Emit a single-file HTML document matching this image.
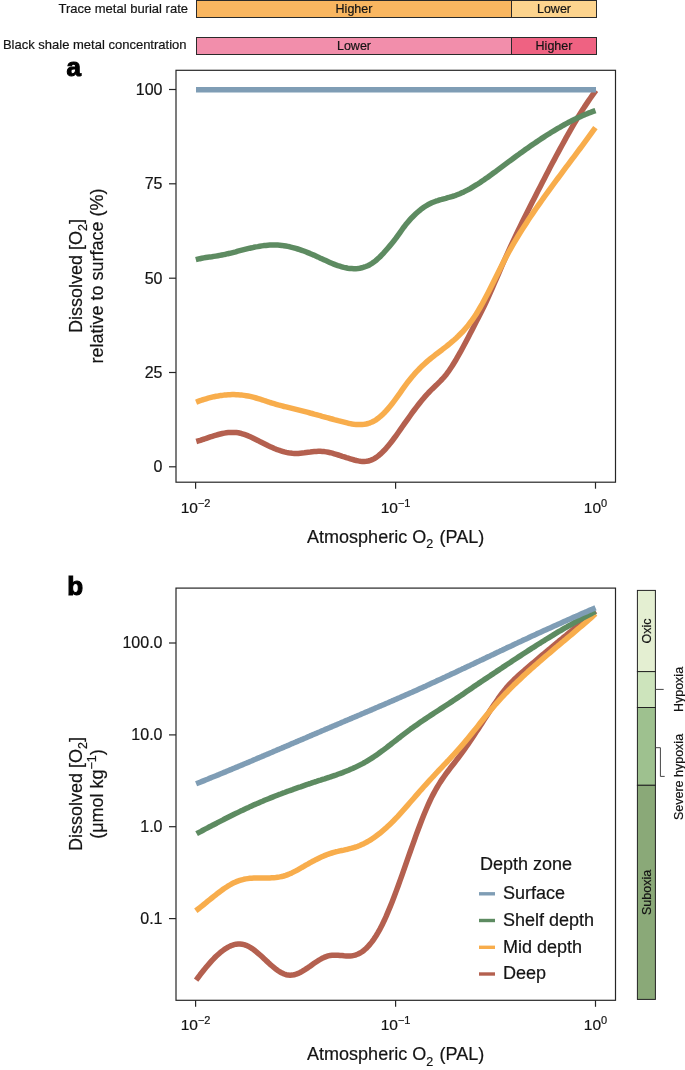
<!DOCTYPE html>
<html><head><meta charset="utf-8"><style>
html,body{margin:0;padding:0;background:#fff;width:685px;height:1070px;overflow:hidden}
svg{display:block;will-change:transform}
text{font-family:"Liberation Sans",sans-serif;stroke:#141414;stroke-width:0.2px}
</style></head><body>
<svg width="685" height="1070" viewBox="0 0 685 1070">
<rect width="685" height="1070" fill="#fff"/>
<text x="188" y="13" font-family="Liberation Sans, sans-serif" font-size="13" text-anchor="end" fill="#141414">Trace metal burial rate</text>
<rect x="196.5" y="0.5" width="315" height="17" fill="#f9b660" stroke="#2a2a2a" stroke-width="1"/>
<rect x="511.5" y="0.5" width="85" height="17" fill="#fdd48e" stroke="#2a2a2a" stroke-width="1"/>
<text x="354" y="13" font-family="Liberation Sans, sans-serif" font-size="12.5" text-anchor="middle" fill="#141414">Higher</text>
<text x="554" y="13" font-family="Liberation Sans, sans-serif" font-size="12.5" text-anchor="middle" fill="#141414">Lower</text>
<text x="186.5" y="49" font-family="Liberation Sans, sans-serif" font-size="13" text-anchor="end" fill="#141414">Black shale metal concentration</text>
<rect x="196.5" y="37.5" width="315" height="17" fill="#f28eab" stroke="#2a2a2a" stroke-width="1"/>
<rect x="511.5" y="37.5" width="85" height="17" fill="#ef6282" stroke="#2a2a2a" stroke-width="1"/>
<text x="354" y="50" font-family="Liberation Sans, sans-serif" font-size="12.5" text-anchor="middle" fill="#141414">Lower</text>
<text x="554" y="50" font-family="Liberation Sans, sans-serif" font-size="12.5" text-anchor="middle" fill="#141414">Higher</text>
<text x="66.6" y="76.2" font-family="Liberation Sans, sans-serif" font-size="26" font-weight="bold" fill="#000" style="stroke:#000;stroke-width:1.1px">a</text>
<text x="67.2" y="594.6" font-family="Liberation Sans, sans-serif" font-size="26" font-weight="bold" fill="#000" style="stroke:#000;stroke-width:1.1px">b</text>
<rect x="176" y="70.3" width="439.5" height="411.9" fill="none" stroke="#262626" stroke-width="1.2"/>
<line x1="169" y1="89.5" x2="176" y2="89.5" stroke="#262626" stroke-width="1.2"/>
<text x="162.5" y="94.8" font-family="Liberation Sans, sans-serif" font-size="16" text-anchor="end" fill="#141414">100</text>
<line x1="169" y1="183.8" x2="176" y2="183.8" stroke="#262626" stroke-width="1.2"/>
<text x="162.5" y="189.1" font-family="Liberation Sans, sans-serif" font-size="16" text-anchor="end" fill="#141414">75</text>
<line x1="169" y1="278.2" x2="176" y2="278.2" stroke="#262626" stroke-width="1.2"/>
<text x="162.5" y="283.5" font-family="Liberation Sans, sans-serif" font-size="16" text-anchor="end" fill="#141414">50</text>
<line x1="169" y1="372.5" x2="176" y2="372.5" stroke="#262626" stroke-width="1.2"/>
<text x="162.5" y="377.8" font-family="Liberation Sans, sans-serif" font-size="16" text-anchor="end" fill="#141414">25</text>
<line x1="169" y1="466.8" x2="176" y2="466.8" stroke="#262626" stroke-width="1.2"/>
<text x="162.5" y="472.1" font-family="Liberation Sans, sans-serif" font-size="16" text-anchor="end" fill="#141414">0</text>
<line x1="195.6" y1="482.2" x2="195.6" y2="488.7" stroke="#262626" stroke-width="1.2"/>
<line x1="395.6" y1="482.2" x2="395.6" y2="488.7" stroke="#262626" stroke-width="1.2"/>
<line x1="595.5" y1="482.2" x2="595.5" y2="488.7" stroke="#262626" stroke-width="1.2"/>
<rect x="176" y="588.1" width="439.5" height="412.2" fill="none" stroke="#262626" stroke-width="1.2"/>
<line x1="169" y1="643.0" x2="176" y2="643.0" stroke="#262626" stroke-width="1.2"/>
<text x="162.5" y="648.3" font-family="Liberation Sans, sans-serif" font-size="16" text-anchor="end" fill="#141414">100.0</text>
<line x1="169" y1="734.9" x2="176" y2="734.9" stroke="#262626" stroke-width="1.2"/>
<text x="162.5" y="740.2" font-family="Liberation Sans, sans-serif" font-size="16" text-anchor="end" fill="#141414">10.0</text>
<line x1="169" y1="826.7" x2="176" y2="826.7" stroke="#262626" stroke-width="1.2"/>
<text x="162.5" y="832.0" font-family="Liberation Sans, sans-serif" font-size="16" text-anchor="end" fill="#141414">1.0</text>
<line x1="169" y1="918.6" x2="176" y2="918.6" stroke="#262626" stroke-width="1.2"/>
<text x="162.5" y="923.9" font-family="Liberation Sans, sans-serif" font-size="16" text-anchor="end" fill="#141414">0.1</text>
<line x1="195.6" y1="1000.3" x2="195.6" y2="1006.8" stroke="#262626" stroke-width="1.2"/>
<line x1="395.6" y1="1000.3" x2="395.6" y2="1006.8" stroke="#262626" stroke-width="1.2"/>
<line x1="595.5" y1="1000.3" x2="595.5" y2="1006.8" stroke="#262626" stroke-width="1.2"/>
<text x="195.6" y="513.3" font-family="Liberation Sans, sans-serif" font-size="15.5" text-anchor="middle" fill="#141414">10<tspan font-size="11" dy="-6">−2</tspan></text>
<text x="395.6" y="513.3" font-family="Liberation Sans, sans-serif" font-size="15.5" text-anchor="middle" fill="#141414">10<tspan font-size="11" dy="-6">−1</tspan></text>
<text x="595.5" y="513.3" font-family="Liberation Sans, sans-serif" font-size="15.5" text-anchor="middle" fill="#141414">10<tspan font-size="11" dy="-6">0</tspan></text>
<text x="195.6" y="1030.3" font-family="Liberation Sans, sans-serif" font-size="15.5" text-anchor="middle" fill="#141414">10<tspan font-size="11" dy="-6">−2</tspan></text>
<text x="395.6" y="1030.3" font-family="Liberation Sans, sans-serif" font-size="15.5" text-anchor="middle" fill="#141414">10<tspan font-size="11" dy="-6">−1</tspan></text>
<text x="595.5" y="1030.3" font-family="Liberation Sans, sans-serif" font-size="15.5" text-anchor="middle" fill="#141414">10<tspan font-size="11" dy="-6">0</tspan></text>
<text x="395.7" y="542.7" font-family="Liberation Sans, sans-serif" font-size="18" text-anchor="middle" fill="#141414">Atmospheric O<tspan font-size="12.5" dy="5.5">2</tspan><tspan dy="-5.5" dx="1.5"> (PAL)</tspan></text>
<text x="395.7" y="1060.1" font-family="Liberation Sans, sans-serif" font-size="18" text-anchor="middle" fill="#141414">Atmospheric O<tspan font-size="12.5" dy="5.5">2</tspan><tspan dy="-5.5" dx="1.5"> (PAL)</tspan></text>
<text transform="translate(81.5,276) rotate(-90)" font-family="Liberation Sans, sans-serif" font-size="18" text-anchor="middle" fill="#141414">Dissolved [O<tspan font-size="12.5" dy="5.5">2</tspan><tspan dy="-5.5">]</tspan></text>
<text transform="translate(102.6,276) rotate(-90)" font-family="Liberation Sans, sans-serif" font-size="18" text-anchor="middle" fill="#141414">relative to surface (%)</text>
<text transform="translate(81.5,794) rotate(-90)" font-family="Liberation Sans, sans-serif" font-size="18" text-anchor="middle" fill="#141414">Dissolved [O<tspan font-size="12.5" dy="5.5">2</tspan><tspan dy="-5.5">]</tspan></text>
<text transform="translate(102.6,794) rotate(-90)" font-family="Liberation Sans, sans-serif" font-size="18" text-anchor="middle" fill="#141414">(μmol kg<tspan font-size="12.5" dy="-7">−1</tspan><tspan dy="7">)</tspan></text>
<path d="M196.3,441.5 L198.3,440.9 L200.3,440.3 L202.3,439.6 L204.3,439.0 L206.3,438.3 L208.3,437.6 L210.3,436.9 L212.3,436.3 L214.3,435.7 L216.3,435.1 L218.3,434.5 L220.3,434.0 L222.3,433.5 L224.3,433.1 L226.3,432.8 L228.3,432.6 L230.3,432.4 L232.3,432.4 L234.3,432.4 L236.3,432.6 L238.3,432.8 L240.3,433.2 L242.3,433.8 L244.3,434.4 L246.3,435.1 L248.3,435.9 L250.3,436.8 L252.3,437.7 L254.3,438.7 L256.3,439.7 L258.3,440.7 L260.3,441.8 L262.3,442.8 L264.3,443.8 L266.3,444.8 L268.3,445.8 L270.3,446.7 L272.3,447.6 L274.3,448.5 L276.3,449.3 L278.3,450.0 L280.3,450.7 L282.3,451.3 L284.3,451.9 L286.3,452.4 L288.3,452.8 L290.3,453.1 L292.3,453.3 L294.3,453.4 L296.3,453.4 L298.3,453.4 L300.3,453.2 L302.3,453.0 L304.3,452.8 L306.3,452.5 L308.3,452.2 L310.3,452.0 L312.3,451.7 L314.3,451.5 L316.3,451.4 L318.3,451.3 L320.3,451.3 L322.3,451.4 L324.3,451.6 L326.3,451.9 L328.3,452.3 L330.3,452.7 L332.3,453.2 L334.3,453.8 L336.3,454.4 L338.3,455.0 L340.3,455.6 L342.3,456.3 L344.3,456.9 L346.3,457.6 L348.3,458.2 L350.3,458.8 L352.3,459.4 L354.3,460.0 L356.3,460.5 L358.3,460.9 L360.3,461.2 L362.3,461.4 L364.3,461.4 L366.3,461.3 L368.3,461.0 L370.3,460.4 L372.3,459.7 L374.3,458.6 L376.3,457.4 L378.3,455.9 L380.3,454.2 L382.3,452.3 L384.3,450.3 L386.3,448.1 L388.3,445.7 L390.3,443.3 L392.3,440.7 L394.3,438.0 L396.3,435.3 L398.3,432.5 L400.3,429.7 L402.3,426.8 L404.3,423.9 L406.3,421.1 L408.3,418.3 L410.3,415.5 L412.3,412.7 L414.3,410.0 L416.3,407.4 L418.3,404.8 L420.3,402.2 L422.3,399.8 L424.3,397.4 L426.3,395.2 L428.3,393.0 L430.3,390.9 L432.3,388.9 L434.3,387.0 L436.3,385.1 L438.3,383.1 L440.3,381.1 L442.3,379.0 L444.3,376.8 L446.3,374.4 L448.3,371.7 L450.3,368.8 L452.3,365.8 L454.3,362.5 L456.3,359.2 L458.3,355.7 L460.3,352.2 L462.3,348.5 L464.3,344.8 L466.3,341.0 L468.3,337.2 L470.3,333.3 L472.3,329.4 L474.3,325.5 L476.3,321.6 L478.3,317.8 L480.3,313.8 L482.3,309.8 L484.3,305.7 L486.3,301.5 L488.3,297.1 L490.3,292.7 L492.3,288.1 L494.3,283.5 L496.3,278.9 L498.3,274.3 L500.3,269.6 L502.3,265.0 L504.3,260.5 L506.3,256.0 L508.3,251.6 L510.3,247.2 L512.3,242.9 L514.3,238.6 L516.3,234.4 L518.3,230.3 L520.3,226.1 L522.3,222.1 L524.3,218.0 L526.3,214.0 L528.3,210.0 L530.3,206.0 L532.3,202.1 L534.3,198.2 L536.3,194.2 L538.3,190.3 L540.3,186.4 L542.3,182.5 L544.3,178.7 L546.3,174.8 L548.3,171.0 L550.3,167.1 L552.3,163.3 L554.3,159.6 L556.3,155.8 L558.3,152.1 L560.3,148.4 L562.3,144.7 L564.3,141.1 L566.3,137.4 L568.3,133.9 L570.3,130.3 L572.3,126.9 L574.3,123.4 L576.3,120.0 L578.3,116.7 L580.3,113.5 L582.3,110.3 L584.3,107.1 L586.3,104.1 L588.3,101.1 L590.3,98.2 L592.3,95.4 L594.3,92.6 L596.0,90.4" fill="none" stroke="#b4604f" stroke-width="5.5" stroke-linecap="butt" stroke-linejoin="round"/>
<path d="M196.1,402.2 L198.1,401.4 L200.1,400.7 L202.1,400.0 L204.1,399.4 L206.1,398.8 L208.1,398.2 L210.1,397.7 L212.1,397.2 L214.1,396.7 L216.1,396.3 L218.1,396.0 L220.1,395.6 L222.1,395.4 L224.1,395.1 L226.1,394.9 L228.1,394.8 L230.1,394.7 L232.1,394.6 L234.1,394.6 L236.1,394.7 L238.1,394.8 L240.1,394.9 L242.1,395.1 L244.1,395.4 L246.1,395.7 L248.1,396.0 L250.1,396.4 L252.1,396.9 L254.1,397.4 L256.1,398.0 L258.1,398.6 L260.1,399.2 L262.1,399.8 L264.1,400.5 L266.1,401.2 L268.1,401.8 L270.1,402.5 L272.1,403.1 L274.1,403.7 L276.1,404.3 L278.1,404.9 L280.1,405.4 L282.1,405.9 L284.1,406.5 L286.1,406.9 L288.1,407.4 L290.1,407.9 L292.1,408.4 L294.1,408.9 L296.1,409.4 L298.1,409.9 L300.1,410.4 L302.1,410.9 L304.1,411.4 L306.1,411.9 L308.1,412.4 L310.1,413.0 L312.1,413.5 L314.1,414.1 L316.1,414.6 L318.1,415.2 L320.1,415.7 L322.1,416.3 L324.1,416.8 L326.1,417.4 L328.1,417.9 L330.1,418.5 L332.1,419.0 L334.1,419.6 L336.1,420.1 L338.1,420.7 L340.1,421.2 L342.1,421.7 L344.1,422.2 L346.1,422.7 L348.1,423.2 L350.1,423.6 L352.1,424.0 L354.1,424.3 L356.1,424.5 L358.1,424.6 L360.1,424.6 L362.1,424.5 L364.1,424.3 L366.1,424.0 L368.1,423.5 L370.1,422.8 L372.1,422.0 L374.1,421.0 L376.1,419.8 L378.1,418.3 L380.1,416.7 L382.1,414.9 L384.1,413.0 L386.1,410.9 L388.1,408.6 L390.1,406.2 L392.1,403.7 L394.1,401.1 L396.1,398.4 L398.1,395.6 L400.1,392.8 L402.1,389.9 L404.1,387.1 L406.1,384.4 L408.1,381.7 L410.1,379.2 L412.1,376.8 L414.1,374.4 L416.1,372.2 L418.1,370.1 L420.1,368.0 L422.1,366.1 L424.1,364.2 L426.1,362.4 L428.1,360.6 L430.1,359.0 L432.1,357.4 L434.1,355.8 L436.1,354.2 L438.1,352.7 L440.1,351.2 L442.1,349.7 L444.1,348.1 L446.1,346.6 L448.1,345.0 L450.1,343.4 L452.1,341.7 L454.1,340.0 L456.1,338.2 L458.1,336.3 L460.1,334.3 L462.1,332.3 L464.1,330.1 L466.1,327.8 L468.1,325.4 L470.1,322.8 L472.1,320.1 L474.1,317.2 L476.1,314.2 L478.1,310.9 L480.1,307.5 L482.1,304.0 L484.1,300.3 L486.1,296.5 L488.1,292.7 L490.1,288.7 L492.1,284.7 L494.1,280.7 L496.1,276.7 L498.1,272.7 L500.1,268.7 L502.1,264.7 L504.1,260.8 L506.1,257.0 L508.1,253.3 L510.1,249.7 L512.1,246.2 L514.1,242.7 L516.1,239.3 L518.1,236.0 L520.1,232.8 L522.1,229.6 L524.1,226.5 L526.1,223.4 L528.1,220.3 L530.1,217.3 L532.1,214.4 L534.1,211.4 L536.1,208.5 L538.1,205.6 L540.1,202.8 L542.1,200.0 L544.1,197.1 L546.1,194.4 L548.1,191.6 L550.1,188.8 L552.1,186.1 L554.1,183.4 L556.1,180.7 L558.1,178.0 L560.1,175.3 L562.1,172.6 L564.1,169.9 L566.1,167.2 L568.1,164.6 L570.1,161.9 L572.1,159.2 L574.1,156.6 L576.1,153.9 L578.1,151.2 L580.1,148.5 L582.1,145.8 L584.1,143.1 L586.1,140.4 L588.1,137.7 L590.1,134.9 L592.1,132.1 L594.1,129.4 L595.4,127.6" fill="none" stroke="#f8ad4c" stroke-width="5.5" stroke-linecap="butt" stroke-linejoin="round"/>
<path d="M195.8,259.7 L197.8,259.2 L199.8,258.7 L201.8,258.3 L203.8,257.9 L205.8,257.5 L207.8,257.2 L209.8,256.9 L211.8,256.7 L213.8,256.4 L215.8,256.1 L217.8,255.8 L219.8,255.4 L221.8,255.0 L223.8,254.6 L225.8,254.2 L227.8,253.7 L229.8,253.3 L231.8,252.8 L233.8,252.3 L235.8,251.8 L237.8,251.2 L239.8,250.7 L241.8,250.2 L243.8,249.7 L245.8,249.2 L247.8,248.7 L249.8,248.2 L251.8,247.8 L253.8,247.3 L255.8,246.9 L257.8,246.6 L259.8,246.2 L261.8,245.9 L263.8,245.6 L265.8,245.4 L267.8,245.2 L269.8,245.1 L271.8,245.0 L273.8,245.0 L275.8,245.0 L277.8,245.1 L279.8,245.2 L281.8,245.4 L283.8,245.7 L285.8,246.0 L287.8,246.4 L289.8,246.8 L291.8,247.3 L293.8,247.8 L295.8,248.4 L297.8,249.0 L299.8,249.6 L301.8,250.3 L303.8,251.0 L305.8,251.8 L307.8,252.6 L309.8,253.4 L311.8,254.3 L313.8,255.1 L315.8,256.0 L317.8,256.9 L319.8,257.9 L321.8,258.8 L323.8,259.7 L325.8,260.6 L327.8,261.5 L329.8,262.4 L331.8,263.3 L333.8,264.1 L335.8,264.9 L337.8,265.6 L339.8,266.2 L341.8,266.8 L343.8,267.4 L345.8,267.8 L347.8,268.2 L349.8,268.5 L351.8,268.6 L353.8,268.7 L355.8,268.7 L357.8,268.5 L359.8,268.2 L361.8,267.8 L363.8,267.2 L365.8,266.5 L367.8,265.7 L369.8,264.7 L371.8,263.5 L373.8,262.1 L375.8,260.6 L377.8,258.8 L379.8,257.0 L381.8,254.9 L383.8,252.8 L385.8,250.5 L387.8,248.2 L389.8,245.9 L391.8,243.5 L393.8,241.0 L395.8,238.4 L397.8,235.6 L399.8,232.8 L401.8,230.0 L403.8,227.2 L405.8,224.6 L407.8,222.2 L409.8,219.9 L411.8,217.7 L413.8,215.7 L415.8,213.8 L417.8,212.0 L419.8,210.3 L421.8,208.7 L423.8,207.3 L425.8,206.0 L427.8,204.8 L429.8,203.8 L431.8,202.8 L433.8,202.0 L435.8,201.2 L437.8,200.6 L439.8,199.9 L441.8,199.4 L443.8,198.8 L445.8,198.3 L447.8,197.7 L449.8,197.2 L451.8,196.6 L453.8,196.0 L455.8,195.3 L457.8,194.5 L459.8,193.7 L461.8,192.8 L463.8,191.9 L465.8,190.9 L467.8,189.9 L469.8,188.8 L471.8,187.6 L473.8,186.4 L475.8,185.2 L477.8,184.0 L479.8,182.7 L481.8,181.3 L483.8,180.0 L485.8,178.6 L487.8,177.2 L489.8,175.7 L491.8,174.3 L493.8,172.8 L495.8,171.4 L497.8,169.9 L499.8,168.4 L501.8,166.9 L503.8,165.4 L505.8,163.9 L507.8,162.4 L509.8,160.9 L511.8,159.5 L513.8,158.0 L515.8,156.5 L517.8,155.1 L519.8,153.6 L521.8,152.2 L523.8,150.8 L525.8,149.3 L527.8,147.9 L529.8,146.5 L531.8,145.1 L533.8,143.8 L535.8,142.4 L537.8,141.1 L539.8,139.7 L541.8,138.4 L543.8,137.1 L545.8,135.8 L547.8,134.5 L549.8,133.3 L551.8,132.0 L553.8,130.8 L555.8,129.6 L557.8,128.4 L559.8,127.3 L561.8,126.1 L563.8,125.0 L565.8,123.9 L567.8,122.8 L569.8,121.8 L571.8,120.7 L573.8,119.7 L575.8,118.8 L577.8,117.8 L579.8,116.9 L581.8,116.0 L583.8,115.1 L585.8,114.3 L587.8,113.4 L589.8,112.7 L591.8,111.9 L593.8,111.2 L595.5,110.6" fill="none" stroke="#5d8b61" stroke-width="5.5" stroke-linecap="butt" stroke-linejoin="round"/>
<path d="M196.0,89.8 L596.0,89.8" fill="none" stroke="#7f9db5" stroke-width="5.5" stroke-linecap="butt" stroke-linejoin="round"/>
<path d="M196.1,980.1 L198.1,977.5 L200.1,974.8 L202.1,972.3 L204.1,969.7 L206.1,967.3 L208.1,964.9 L210.1,962.6 L212.1,960.4 L214.1,958.3 L216.1,956.3 L218.1,954.5 L220.1,952.7 L222.1,951.1 L224.1,949.6 L226.1,948.3 L228.1,947.1 L230.1,946.1 L232.1,945.3 L234.1,944.7 L236.1,944.2 L238.1,944.0 L240.1,944.0 L242.1,944.2 L244.1,944.6 L246.1,945.3 L248.1,946.2 L250.1,947.3 L252.1,948.6 L254.1,950.0 L256.1,951.6 L258.1,953.3 L260.1,955.0 L262.1,956.8 L264.1,958.7 L266.1,960.6 L268.1,962.4 L270.1,964.3 L272.1,966.0 L274.1,967.7 L276.1,969.3 L278.1,970.7 L280.1,972.0 L282.1,973.1 L284.1,974.0 L286.1,974.7 L288.1,975.1 L290.1,975.2 L292.1,975.1 L294.1,974.8 L296.1,974.2 L298.1,973.4 L300.1,972.5 L302.1,971.4 L304.1,970.2 L306.1,968.9 L308.1,967.6 L310.1,966.2 L312.1,964.7 L314.1,963.3 L316.1,962.0 L318.1,960.7 L320.1,959.5 L322.1,958.3 L324.1,957.4 L326.1,956.6 L328.1,955.9 L330.1,955.5 L332.1,955.3 L334.1,955.2 L336.1,955.2 L338.1,955.3 L340.1,955.5 L342.1,955.6 L344.1,955.8 L346.1,955.9 L348.1,956.0 L350.1,955.9 L352.1,955.7 L354.1,955.4 L356.1,954.8 L358.1,954.0 L360.1,953.0 L362.1,951.7 L364.1,950.2 L366.1,948.5 L368.1,946.4 L370.1,944.1 L372.1,941.6 L374.1,938.8 L376.1,935.7 L378.1,932.4 L380.1,928.8 L382.1,924.9 L384.1,920.8 L386.1,916.4 L388.1,911.7 L390.1,906.9 L392.1,901.9 L394.1,896.7 L396.1,891.4 L398.1,886.0 L400.1,880.4 L402.1,874.8 L404.1,869.1 L406.1,863.4 L408.1,857.7 L410.1,852.0 L412.1,846.4 L414.1,840.8 L416.1,835.2 L418.1,829.8 L420.1,824.5 L422.1,819.3 L424.1,814.3 L426.1,809.5 L428.1,804.9 L430.1,800.5 L432.1,796.4 L434.1,792.6 L436.1,789.0 L438.1,785.6 L440.1,782.4 L442.1,779.4 L444.1,776.5 L446.1,773.7 L448.1,771.0 L450.1,768.3 L452.1,765.8 L454.1,763.2 L456.1,760.6 L458.1,758.0 L460.1,755.4 L462.1,752.7 L464.1,749.9 L466.1,747.0 L468.1,744.1 L470.1,741.2 L472.1,738.2 L474.1,735.2 L476.1,732.1 L478.1,729.1 L480.1,726.0 L482.1,722.9 L484.1,719.8 L486.1,716.7 L488.1,713.7 L490.1,710.6 L492.1,707.6 L494.1,704.6 L496.1,701.7 L498.1,698.7 L500.1,695.9 L502.1,693.2 L504.1,690.6 L506.1,688.1 L508.1,685.8 L510.1,683.6 L512.1,681.6 L514.1,679.6 L516.1,677.7 L518.1,675.9 L520.1,674.1 L522.1,672.3 L524.1,670.6 L526.1,668.8 L528.1,667.1 L530.1,665.4 L532.1,663.7 L534.1,662.0 L536.1,660.3 L538.1,658.6 L540.1,656.9 L542.1,655.2 L544.1,653.5 L546.1,651.8 L548.1,650.2 L550.1,648.5 L552.1,646.8 L554.1,645.2 L556.1,643.5 L558.1,641.9 L560.1,640.2 L562.1,638.6 L564.1,636.9 L566.1,635.3 L568.1,633.6 L570.1,632.0 L572.1,630.3 L574.1,628.7 L576.1,627.1 L578.1,625.4 L580.1,623.8 L582.1,622.1 L584.1,620.5 L586.1,618.8 L588.1,617.1 L590.1,615.5 L592.1,613.8 L594.1,612.1 L595.5,611.0" fill="none" stroke="#b4604f" stroke-width="5.5" stroke-linecap="butt" stroke-linejoin="round"/>
<path d="M195.8,910.7 L197.8,909.2 L199.8,907.7 L201.8,906.1 L203.8,904.5 L205.8,902.9 L207.8,901.2 L209.8,899.6 L211.8,898.0 L213.8,896.4 L215.8,894.8 L217.8,893.2 L219.8,891.7 L221.8,890.3 L223.8,888.8 L225.8,887.5 L227.8,886.2 L229.8,885.0 L231.8,883.8 L233.8,882.8 L235.8,881.9 L237.8,881.1 L239.8,880.4 L241.8,879.8 L243.8,879.3 L245.8,878.9 L247.8,878.6 L249.8,878.3 L251.8,878.2 L253.8,878.1 L255.8,878.0 L257.8,877.9 L259.8,877.9 L261.8,877.9 L263.8,877.9 L265.8,877.9 L267.8,877.9 L269.8,877.9 L271.8,877.8 L273.8,877.7 L275.8,877.5 L277.8,877.2 L279.8,876.9 L281.8,876.5 L283.8,876.0 L285.8,875.4 L287.8,874.6 L289.8,873.8 L291.8,872.9 L293.8,871.9 L295.8,870.9 L297.8,869.8 L299.8,868.7 L301.8,867.5 L303.8,866.4 L305.8,865.2 L307.8,864.1 L309.8,862.9 L311.8,861.8 L313.8,860.8 L315.8,859.7 L317.8,858.7 L319.8,857.7 L321.8,856.8 L323.8,855.9 L325.8,855.1 L327.8,854.3 L329.8,853.6 L331.8,853.0 L333.8,852.4 L335.8,851.8 L337.8,851.4 L339.8,850.9 L341.8,850.5 L343.8,850.1 L345.8,849.6 L347.8,849.2 L349.8,848.7 L351.8,848.2 L353.8,847.6 L355.8,847.0 L357.8,846.3 L359.8,845.5 L361.8,844.6 L363.8,843.7 L365.8,842.6 L367.8,841.5 L369.8,840.3 L371.8,839.1 L373.8,837.7 L375.8,836.3 L377.8,834.8 L379.8,833.3 L381.8,831.6 L383.8,829.9 L385.8,828.2 L387.8,826.3 L389.8,824.4 L391.8,822.5 L393.8,820.5 L395.8,818.4 L397.8,816.3 L399.8,814.1 L401.8,811.9 L403.8,809.7 L405.8,807.4 L407.8,805.1 L409.8,802.8 L411.8,800.5 L413.8,798.2 L415.8,795.9 L417.8,793.6 L419.8,791.3 L421.8,789.1 L423.8,786.8 L425.8,784.6 L427.8,782.4 L429.8,780.2 L431.8,778.0 L433.8,775.8 L435.8,773.7 L437.8,771.5 L439.8,769.4 L441.8,767.3 L443.8,765.2 L445.8,763.1 L447.8,761.0 L449.8,758.8 L451.8,756.7 L453.8,754.5 L455.8,752.3 L457.8,750.1 L459.8,747.9 L461.8,745.6 L463.8,743.2 L465.8,740.9 L467.8,738.5 L469.8,736.0 L471.8,733.5 L473.8,731.1 L475.8,728.6 L477.8,726.1 L479.8,723.5 L481.8,721.0 L483.8,718.5 L485.8,716.1 L487.8,713.6 L489.8,711.2 L491.8,708.8 L493.8,706.5 L495.8,704.1 L497.8,701.9 L499.8,699.7 L501.8,697.5 L503.8,695.3 L505.8,693.2 L507.8,691.2 L509.8,689.1 L511.8,687.1 L513.8,685.1 L515.8,683.2 L517.8,681.3 L519.8,679.4 L521.8,677.5 L523.8,675.6 L525.8,673.8 L527.8,671.9 L529.8,670.1 L531.8,668.3 L533.8,666.6 L535.8,664.8 L537.8,663.1 L539.8,661.3 L541.8,659.6 L543.8,657.9 L545.8,656.2 L547.8,654.5 L549.8,652.8 L551.8,651.1 L553.8,649.4 L555.8,647.7 L557.8,646.0 L559.8,644.4 L561.8,642.7 L563.8,641.0 L565.8,639.4 L567.8,637.7 L569.8,636.0 L571.8,634.3 L573.8,632.6 L575.8,630.9 L577.8,629.2 L579.8,627.5 L581.8,625.8 L583.8,624.1 L585.8,622.4 L587.8,620.6 L589.8,618.9 L591.8,617.1 L593.8,615.3 L595.5,613.8" fill="none" stroke="#f8ad4c" stroke-width="5.5" stroke-linecap="butt" stroke-linejoin="round"/>
<path d="M196.6,833.7 L198.6,832.6 L200.6,831.6 L202.6,830.5 L204.6,829.4 L206.6,828.4 L208.6,827.3 L210.6,826.3 L212.6,825.2 L214.6,824.2 L216.6,823.2 L218.6,822.1 L220.6,821.1 L222.6,820.1 L224.6,819.0 L226.6,818.0 L228.6,817.0 L230.6,816.0 L232.6,815.0 L234.6,814.0 L236.6,813.1 L238.6,812.1 L240.6,811.1 L242.6,810.2 L244.6,809.2 L246.6,808.3 L248.6,807.4 L250.6,806.4 L252.6,805.5 L254.6,804.6 L256.6,803.8 L258.6,802.9 L260.6,802.0 L262.6,801.2 L264.6,800.3 L266.6,799.5 L268.6,798.7 L270.6,797.9 L272.6,797.1 L274.6,796.3 L276.6,795.5 L278.6,794.7 L280.6,794.0 L282.6,793.2 L284.6,792.5 L286.6,791.7 L288.6,791.0 L290.6,790.3 L292.6,789.6 L294.6,788.8 L296.6,788.1 L298.6,787.4 L300.6,786.8 L302.6,786.1 L304.6,785.4 L306.6,784.7 L308.6,784.0 L310.6,783.4 L312.6,782.7 L314.6,782.0 L316.6,781.4 L318.6,780.7 L320.6,780.1 L322.6,779.4 L324.6,778.8 L326.6,778.1 L328.6,777.5 L330.6,776.8 L332.6,776.1 L334.6,775.5 L336.6,774.8 L338.6,774.0 L340.6,773.3 L342.6,772.6 L344.6,771.8 L346.6,771.0 L348.6,770.2 L350.6,769.3 L352.6,768.5 L354.6,767.6 L356.6,766.6 L358.6,765.6 L360.6,764.6 L362.6,763.6 L364.6,762.5 L366.6,761.3 L368.6,760.1 L370.6,758.9 L372.6,757.6 L374.6,756.3 L376.6,754.9 L378.6,753.5 L380.6,752.0 L382.6,750.6 L384.6,749.1 L386.6,747.6 L388.6,746.0 L390.6,744.5 L392.6,742.9 L394.6,741.4 L396.6,739.8 L398.6,738.2 L400.6,736.7 L402.6,735.1 L404.6,733.6 L406.6,732.1 L408.6,730.6 L410.6,729.1 L412.6,727.7 L414.6,726.3 L416.6,724.9 L418.6,723.5 L420.6,722.1 L422.6,720.7 L424.6,719.4 L426.6,718.1 L428.6,716.7 L430.6,715.4 L432.6,714.1 L434.6,712.8 L436.6,711.5 L438.6,710.2 L440.6,708.9 L442.6,707.6 L444.6,706.3 L446.6,705.0 L448.6,703.7 L450.6,702.4 L452.6,701.1 L454.6,699.7 L456.6,698.4 L458.6,697.1 L460.6,695.7 L462.6,694.4 L464.6,693.0 L466.6,691.6 L468.6,690.2 L470.6,688.9 L472.6,687.5 L474.6,686.1 L476.6,684.8 L478.6,683.4 L480.6,682.1 L482.6,680.7 L484.6,679.4 L486.6,678.1 L488.6,676.8 L490.6,675.4 L492.6,674.1 L494.6,672.8 L496.6,671.4 L498.6,670.1 L500.6,668.8 L502.6,667.4 L504.6,666.1 L506.6,664.8 L508.6,663.5 L510.6,662.2 L512.6,660.8 L514.6,659.5 L516.6,658.2 L518.6,656.9 L520.6,655.6 L522.6,654.3 L524.6,653.0 L526.6,651.7 L528.6,650.4 L530.6,649.1 L532.6,647.8 L534.6,646.6 L536.6,645.3 L538.6,644.0 L540.6,642.8 L542.6,641.5 L544.6,640.3 L546.6,639.0 L548.6,637.8 L550.6,636.6 L552.6,635.4 L554.6,634.1 L556.6,632.9 L558.6,631.7 L560.6,630.6 L562.6,629.4 L564.6,628.2 L566.6,627.1 L568.6,625.9 L570.6,624.8 L572.6,623.6 L574.6,622.5 L576.6,621.4 L578.6,620.3 L580.6,619.2 L582.6,618.2 L584.6,617.1 L586.6,616.0 L588.6,615.0 L590.6,614.0 L592.6,612.9 L594.6,611.9 L595.5,611.5" fill="none" stroke="#5d8b61" stroke-width="5.5" stroke-linecap="butt" stroke-linejoin="round"/>
<path d="M196.1,783.8 L198.1,783.0 L200.1,782.2 L202.1,781.4 L204.1,780.6 L206.1,779.8 L208.1,779.0 L210.1,778.1 L212.1,777.3 L214.1,776.5 L216.1,775.7 L218.1,774.9 L220.1,774.0 L222.1,773.2 L224.1,772.4 L226.1,771.6 L228.1,770.7 L230.1,769.9 L232.1,769.1 L234.1,768.2 L236.1,767.4 L238.1,766.6 L240.1,765.7 L242.1,764.9 L244.1,764.0 L246.1,763.2 L248.1,762.4 L250.1,761.5 L252.1,760.7 L254.1,759.8 L256.1,759.0 L258.1,758.1 L260.1,757.3 L262.1,756.4 L264.1,755.6 L266.1,754.7 L268.1,753.9 L270.1,753.0 L272.1,752.2 L274.1,751.3 L276.1,750.5 L278.1,749.6 L280.1,748.8 L282.1,747.9 L284.1,747.1 L286.1,746.2 L288.1,745.4 L290.1,744.5 L292.1,743.6 L294.1,742.8 L296.1,741.9 L298.1,741.1 L300.1,740.2 L302.1,739.4 L304.1,738.5 L306.1,737.7 L308.1,736.8 L310.1,735.9 L312.1,735.1 L314.1,734.2 L316.1,733.4 L318.1,732.5 L320.1,731.7 L322.1,730.8 L324.1,730.0 L326.1,729.1 L328.1,728.3 L330.1,727.4 L332.1,726.6 L334.1,725.7 L336.1,724.9 L338.1,724.0 L340.1,723.2 L342.1,722.3 L344.1,721.5 L346.1,720.6 L348.1,719.8 L350.1,718.9 L352.1,718.1 L354.1,717.2 L356.1,716.4 L358.1,715.5 L360.1,714.7 L362.1,713.8 L364.1,713.0 L366.1,712.1 L368.1,711.3 L370.1,710.4 L372.1,709.6 L374.1,708.7 L376.1,707.8 L378.1,707.0 L380.1,706.1 L382.1,705.3 L384.1,704.4 L386.1,703.5 L388.1,702.7 L390.1,701.8 L392.1,700.9 L394.1,700.1 L396.1,699.2 L398.1,698.3 L400.1,697.5 L402.1,696.6 L404.1,695.7 L406.1,694.8 L408.1,693.9 L410.1,693.0 L412.1,692.2 L414.1,691.3 L416.1,690.4 L418.1,689.5 L420.1,688.6 L422.1,687.7 L424.1,686.8 L426.1,685.9 L428.1,684.9 L430.1,684.0 L432.1,683.1 L434.1,682.2 L436.1,681.3 L438.1,680.3 L440.1,679.4 L442.1,678.5 L444.1,677.6 L446.1,676.6 L448.1,675.7 L450.1,674.8 L452.1,673.8 L454.1,672.9 L456.1,672.0 L458.1,671.0 L460.1,670.1 L462.1,669.1 L464.1,668.2 L466.1,667.2 L468.1,666.3 L470.1,665.4 L472.1,664.4 L474.1,663.5 L476.1,662.5 L478.1,661.6 L480.1,660.6 L482.1,659.7 L484.1,658.7 L486.1,657.8 L488.1,656.8 L490.1,655.9 L492.1,654.9 L494.1,654.0 L496.1,653.0 L498.1,652.1 L500.1,651.1 L502.1,650.2 L504.1,649.2 L506.1,648.3 L508.1,647.3 L510.1,646.4 L512.1,645.5 L514.1,644.5 L516.1,643.6 L518.1,642.6 L520.1,641.7 L522.1,640.8 L524.1,639.8 L526.1,638.9 L528.1,638.0 L530.1,637.0 L532.1,636.1 L534.1,635.2 L536.1,634.3 L538.1,633.3 L540.1,632.4 L542.1,631.5 L544.1,630.6 L546.1,629.7 L548.1,628.8 L550.1,627.9 L552.1,627.0 L554.1,626.1 L556.1,625.2 L558.1,624.3 L560.1,623.4 L562.1,622.5 L564.1,621.6 L566.1,620.7 L568.1,619.8 L570.1,618.9 L572.1,618.0 L574.1,617.1 L576.1,616.3 L578.1,615.4 L580.1,614.5 L582.1,613.6 L584.1,612.7 L586.1,611.9 L588.1,611.0 L590.1,610.1 L592.1,609.3 L594.1,608.4 L595.5,607.8" fill="none" stroke="#7f9db5" stroke-width="5.5" stroke-linecap="butt" stroke-linejoin="round"/>
<text x="480" y="870" font-family="Liberation Sans, sans-serif" font-size="18" fill="#141414">Depth zone</text>
<line x1="479" y1="893.8" x2="495" y2="893.8" stroke="#7f9db5" stroke-width="3.4"/>
<text x="503" y="899.0" font-family="Liberation Sans, sans-serif" font-size="18" fill="#141414">Surface</text>
<line x1="479" y1="920.5" x2="495" y2="920.5" stroke="#5d8b61" stroke-width="3.4"/>
<text x="503" y="925.7" font-family="Liberation Sans, sans-serif" font-size="18" fill="#141414">Shelf depth</text>
<line x1="479" y1="947.3" x2="495" y2="947.3" stroke="#f8ad4c" stroke-width="3.4"/>
<text x="503" y="952.5" font-family="Liberation Sans, sans-serif" font-size="18" fill="#141414">Mid depth</text>
<line x1="479" y1="974.0" x2="495" y2="974.0" stroke="#b4604f" stroke-width="3.4"/>
<text x="503" y="979.2" font-family="Liberation Sans, sans-serif" font-size="18" fill="#141414">Deep</text>
<rect x="637.4" y="590.4" width="18" height="81.2" fill="#e4efd2" stroke="#222" stroke-width="1"/>
<rect x="637.4" y="671.6" width="18" height="35.9" fill="#cde4bc" stroke="#222" stroke-width="1"/>
<rect x="637.4" y="707.5" width="18" height="77.8" fill="#9ec18f" stroke="#222" stroke-width="1"/>
<rect x="637.4" y="785.3" width="18" height="214.1" fill="#8aa978" stroke="#222" stroke-width="1"/>
<text transform="translate(650.5,631) rotate(-90)" font-family="Liberation Sans, sans-serif" font-size="12.5" text-anchor="middle" fill="#141414">Oxic</text>
<text transform="translate(650.5,892.4) rotate(-90)" font-family="Liberation Sans, sans-serif" font-size="12.5" text-anchor="middle" fill="#141414">Suboxia</text>
<text transform="translate(683,689.5) rotate(-90)" font-family="Liberation Sans, sans-serif" font-size="12.5" text-anchor="middle" fill="#141414">Hypoxia</text>
<text transform="translate(683,777) rotate(-90)" font-family="Liberation Sans, sans-serif" font-size="12.5" text-anchor="middle" fill="#141414">Severe hypoxia</text>
<line x1="655.4" y1="689.4" x2="663.7" y2="689.4" stroke="#444" stroke-width="1"/>
<polyline points="655.4,747.7 660.4,747.7 660.4,776.4 664.7,776.4" fill="none" stroke="#444" stroke-width="1"/>
</svg>
</body></html>
